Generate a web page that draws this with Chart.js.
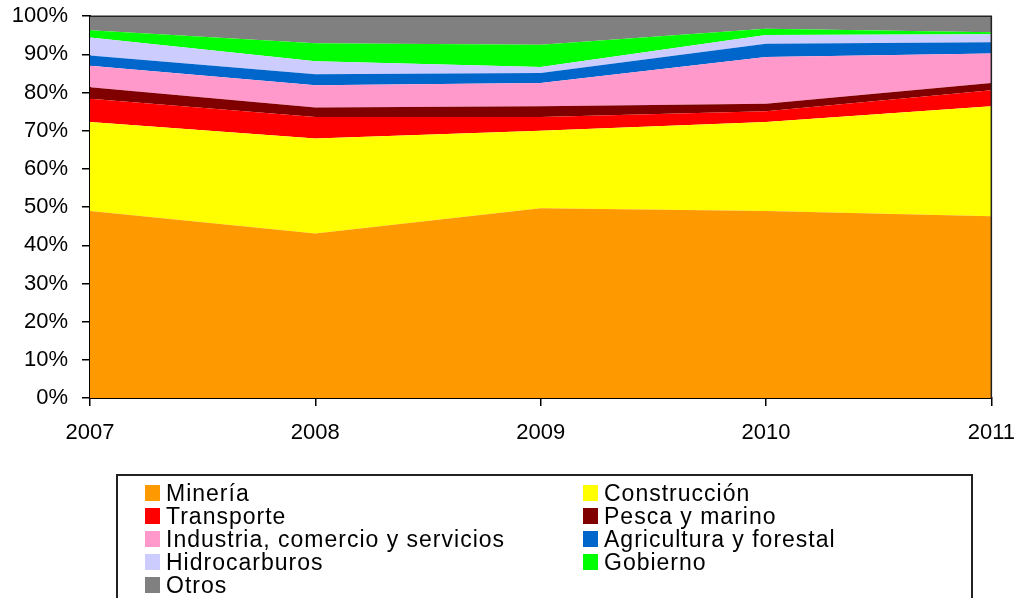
<!DOCTYPE html>
<html>
<head>
<meta charset="utf-8">
<script src="https://cdn.jsdelivr.net/npm/chart.js@4/dist/chart.umd.min.js"></script>
<style>
  html, body { margin:0; padding:0; background:#fff; }
  #wrap { position:relative; width:1020px; height:598px; overflow:hidden; font-family:"Liberation Sans", Arial, sans-serif; }
  #c { position:absolute; left:0; top:-11px; }
  #legend { position:absolute; left:116px; top:474px; width:857px; height:140px; border:2px solid #222; box-sizing:border-box; }
  .item { position:absolute; height:23px; line-height:23px; font-size:23px; letter-spacing:1px; color:#000; white-space:nowrap; }
  .sw { display:inline-block; width:15px; height:16px; vertical-align:middle; margin-right:6px; position:relative; top:-2px; }
</style>
</head>
<body>
<div id="wrap">
  <canvas id="c" width="1029" height="609"></canvas>
  <div id="legend"></div>
</div>
<script>
const years = ["2007", "2008", "2009", "2010", "2011"];
const seriesNames = ["Minería", "Construcción", "Transporte", "Pesca y marino",
  "Industria, comercio y servicios", "Agricultura y forestal", "Hidrocarburos", "Gobierno", "Otros"];
const mineria      = [49.0, 43.1, 49.7, 49.0, 47.6];
const construccion = [23.3, 24.9, 20.3, 23.3, 28.8];
const transporte   = [6.1, 5.6, 3.6, 2.8, 4.2];
const pesca        = [3.0, 2.5, 2.8, 2.0, 1.9];
const industria    = [5.6, 5.8, 6.1, 12.2, 7.7];
const agricultura  = [2.7, 2.9, 2.6, 3.5, 3.0];
const hidrocarb    = [4.7, 3.4, 1.6, 2.3, 2.1];
const gobierno     = [1.9, 4.7, 5.8, 1.6, 0.5];
const otros        = [3.7, 7.1, 7.5, 3.3, 4.2];
const yTicks = [0, 10, 20, 30, 40, 50, 60, 70, 80, 90, 100];

const seriesValues = [mineria, construccion, transporte, pesca, industria, agricultura, hidrocarb, gobierno, otros];
const colors = ["#FF9900", "#FFFF00", "#FF0000", "#800000", "#FF99CC", "#0066CC", "#CCCCFF", "#00FF00", "#808080"];

const datasets = seriesNames.map((n, i) => ({
  label: n,
  data: seriesValues[i],
  backgroundColor: colors[i],
  borderColor: colors[i],
  borderWidth: 0,
  pointRadius: 0,
  tension: 0,
  fill: i === 0 ? 'origin' : '-1'
}));

const frame = {
  id: 'frame',
  afterDatasetsDraw(chart) {
    const a = chart.chartArea, ctx = chart.ctx;
    ctx.save();
    ctx.strokeStyle = '#222';
    ctx.lineWidth = 1.5;
    ctx.beginPath();
    ctx.moveTo(a.left, a.top);
    ctx.lineTo(a.right, a.top);
    ctx.lineTo(a.right, a.bottom);
    ctx.stroke();
    ctx.restore();
  }
};

const font = { family: '"Liberation Sans", Arial, sans-serif', size: 22 };

new Chart(document.getElementById('c'), {
  type: 'line',
  data: { labels: years, datasets },
  options: {
    responsive: false,
    animation: false,
    layout: { padding: { top: 5, right: 20, left: 0, bottom: 140 } },
    plugins: { legend: { display: false }, tooltip: { enabled: false } },
    scales: {
      x: {
        offset: false,
        grid: { drawOnChartArea: false, tickLength: 8, color: '#000', lineWidth: 1.5 },
        border: { color: '#000', width: 2 },
        ticks: { font, color: '#000', padding: 14, maxRotation: 0, autoSkip: false },
        afterFit: s => { s.height = 60; }
      },
      y: {
        stacked: true,
        min: 0, max: 100,
        afterBuildTicks: s => { s.ticks = yTicks.map(v => ({ value: v })); },
        grid: { drawOnChartArea: false, tickLength: 8, color: '#000', lineWidth: 1.5 },
        border: { color: '#000', width: 2 },
        ticks: { font, color: '#000', padding: 14, callback: v => v + '%' },
        afterFit: s => { s.width = 90; }
      }
    }
  },
  plugins: [frame]
});

// legend (two columns)
const leg = document.getElementById('legend');
const colX = [27, 465];
seriesNames.forEach((n, i) => {
  const d = document.createElement('div');
  d.className = 'item';
  d.style.left = colX[i % 2] + 'px';
  d.style.top = (6 + Math.floor(i / 2) * 23) + 'px';
  d.innerHTML = '<span class="sw" style="background:' + colors[i] + '"></span>' + n;
  leg.appendChild(d);
});
</script>
</body>
</html>
